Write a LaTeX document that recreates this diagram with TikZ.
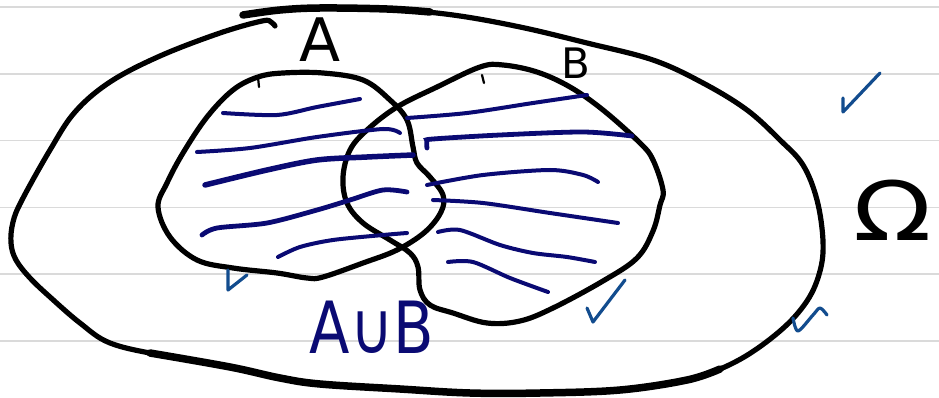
\documentclass[tikz,border=0pt]{standalone}
\usepackage{fontspec}
\setmainfont{DejaVu Sans}
\definecolor{cInk}{RGB}{0,0,0}
\definecolor{cHatch}{RGB}{10,10,115}
\definecolor{cTick}{RGB}{18,76,142}
\definecolor{cRule}{RGB}{218,218,218}
\tikzset{
	setline/.style  ={draw=cInk, line width=5.2pt, line cap=round, line join=round},
	heavyline/.style={draw=cInk, line width=7.5pt, line cap=round},
	hatchline/.style={draw=cHatch, line width=4pt, line cap=round},
	tickmark/.style ={draw=cTick, line width=3.2pt, line cap=round, line join=round},
	ruleline/.style ={draw=cRule, line width=1.6pt},
	setlabel/.style ={inner sep=0pt, text=cInk},
}

\begin{document}
\begin{tikzpicture}[x=1pt, y=-1pt]
	\fill[white] (0,0) rectangle (939,398);
	\useasboundingbox (0,0) rectangle (939,398);
	% ruled paper
	\foreach \yy in {7.3,74,140.7,207.3,274,340.7} \draw[ruleline] (0,\yy) -- (939,\yy);
	% sample space
	\draw[setline] plot[smooth, tension=0.6] coordinates {(243,15) (280,10) (320,8) (387,9) (453,15) (520,27) (587,43) (653,60) (703,83) (747,110) (780,140) (803,165) (817,200) (823,241) (820,271) (807,301) (780,331) (737,361) (687,380) (620,390) (540,393) (470,393) (400,389) (320,384) (280,378) (230,367) (160,355) (110,343) (80,323) (50,297) (30,278) (16,260) (11,243) (13,222) (22,200) (50,150) (75,112) (110,82) (160,56) (220,33) (262,21) (271,22) (275,26)};
	\draw[heavyline] plot[smooth, tension=0.6] coordinates {(243,15) (280,10) (320,8) (387,9) (430,12)};
	\draw[heavyline] plot[smooth, tension=0.6] coordinates {(150,353) (230,367) (280,378) (320,384) (400,389) (470,393) (540,393) (620,390) (687,380) (720,369)};
	% set A
	\draw[setline] plot[smooth cycle, tension=0.6] coordinates {(258,77) (283,73) (323,73) (363,80) (390,100) (407,120) (413,147) (417,163) (430,177) (443,195) (441,212) (425,232) (397,250) (363,263) (323,277) (307,278) (277,273) (233,268) (197,260) (170,237) (158,207) (167,183) (183,153) (207,117) (233,90)};
	\draw[setline, line width=2.2pt] (258,77) -- (259,87);
	% set B
	\draw[setline] plot[smooth cycle, tension=0.6] coordinates {(397,107) (437,87) (480,67) (503,65) (537,72) (570,87) (603,110) (640,143) (653,160) (663,190) (660,205) (653,231) (637,258) (603,281) (553,308) (520,321) (487,323) (453,313) (430,305) (420,290) (418,267) (410,253) (390,240) (363,223) (347,203) (343,177) (350,150) (367,130)};
	\draw[setline, line width=2.2pt] (482,75) -- (484,83);
	% hatching of the union
	\draw[hatchline] plot[smooth] coordinates {(223,113) (277,115) (317,107) (360,99)};
	\draw[hatchline] plot[smooth] coordinates {(197,152) (250,148) (317,137) (383,129) (400,133)};
	\draw[hatchline, line width=5.5pt] plot[smooth] coordinates {(205,185) (267,170) (317,160) (367,157) (413,155)};
	\draw[hatchline, line width=4.8pt] plot[smooth] coordinates {(202,235) (217,228) (267,223) (317,210) (350,200) (383,190) (407,192)};
	\draw[hatchline] plot[smooth] coordinates {(278,257) (300,247) (333,240) (383,235) (407,233)};
	\draw[hatchline] plot[smooth] coordinates {(407,118) (467,113) (533,103) (587,95)};
	\draw[hatchline, line width=4.8pt] plot[smooth] coordinates {(427,148) (427,141) (433,139) (500,135) (583,132) (632,136)};
	\draw[hatchline] plot[smooth] coordinates {(427,185) (483,175) (550,170) (583,175) (598,182)};
	\draw[hatchline] plot[smooth] coordinates {(433,200) (483,203) (550,213) (618,223)};
	\draw[hatchline] plot[smooth] coordinates {(438,232) (460,230) (500,245) (533,253) (567,257) (595,262)};
	\draw[hatchline] plot[smooth] coordinates {(448,262) (473,262) (510,278) (548,292)};
	% ticks
	\draw[tickmark] (228,270) -- (228,290) -- (247,275);
	\draw[tickmark] (587,308) -- (593,322) -- (625,280);
	\draw[tickmark] (843,98) -- (843,112) -- (880,73);
	\draw[tickmark] plot[smooth] coordinates {(793,318) (798,331) (813,315) (820,308) (827,315)};
	% labels
	\node[setlabel, font=\fontsize{60}{60}\selectfont] (labA) at (320,40) {A};
	\node[setlabel, font=\fontsize{42}{42}\selectfont] (labB) at (576,63) {B};
	\node[setlabel, font=\fontsize{82}{82}\selectfont, xscale=1.25] (labOmega) at (893,210) {Ω};
	\node[setlabel, text=cHatch, font=\fontsize{72}{72}\selectfont, xscale=0.82] (labUnion) at (372,327) {A∪B};
\end{tikzpicture}
\end{document}
